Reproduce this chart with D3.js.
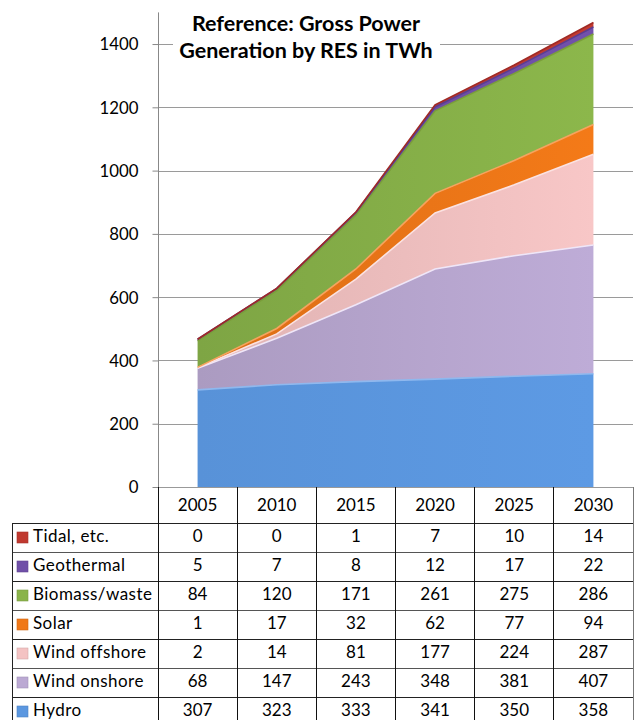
<!DOCTYPE html>
<html><head><meta charset="utf-8">
<script src="https://cdn.jsdelivr.net/npm/d3@7"></script>
<style>
html,body{margin:0;padding:0;background:#fff;}
svg{display:block;font-family:Lato,"Open Sans",sans-serif;}
</style></head>
<body>
<svg id="chart" width="635" height="720"></svg>
<script>
const years = ["2005","2010","2015","2020","2025","2030"];
const seriesNames = ["Hydro","Wind onshore","Wind offshore","Solar","Biomass/waste","Geothermal","Tidal, etc."];
const hydro        = [307,323,333,341,350,358];
const windOnshore  = [68,147,243,348,381,407];
const windOffshore = [2,14,81,177,224,287];
const solar        = [1,17,32,62,77,94];
const biomass      = [84,120,171,261,275,286];
const geothermal   = [5,7,8,12,17,22];
const tidal        = [0,0,1,7,10,14];
const yTicks = [0,200,400,600,800,1000,1200,1400];
const titleLines = ["Reference: Gross Power","Generation by RES in TWh"];

const seriesValues = [hydro,windOnshore,windOffshore,solar,biomass,geothermal,tidal];
const colors = ["#5b97e0","#bba9d3","#f4c3c3","#f07818","#8ab44a","#7050a8","#c0392f"];
const edge   = ["#8fb8ee","#efe6f8","#fbe2e2","#f6a35e","#7a9e3a","#5a3d90","#a02a25"];

const table = years.map((y,i)=>{
  const o={year:y};
  seriesNames.forEach((n,k)=>o[n]=seriesValues[k][i]);
  return o;
});

const svg = d3.select("#chart");
const pLeft=158, pRight=633, pTop=12.4, pBottom=487;
const x = d3.scaleBand().domain(years).range([pLeft,pRight]).padding(0);
const xc = d => x(d)+x.bandwidth()/2;
const y = d3.scaleLinear().domain([0,1500]).range([pBottom,pTop]);

const defs = svg.append("defs");
colors.forEach((c,i)=>{
  const g = defs.append("linearGradient").attr("id","g"+i).attr("x1","0").attr("x2","1").attr("y1","0").attr("y2","0");
  g.append("stop").attr("offset","0").attr("stop-color",d3.color(c).darker(i===0?0.1:0.25));
  g.append("stop").attr("offset","1").attr("stop-color",d3.color(c).brighter(0.05));
});

// gridlines
svg.append("g").selectAll("line").data(yTicks.filter(t=>t>0)).join("line")
  .attr("x1",pLeft).attr("x2",pRight).attr("y1",d=>Math.round(y(d))+0.5).attr("y2",d=>Math.round(y(d))+0.5)
  .attr("stroke","#9a9a9a").attr("stroke-width",1);

// stacked areas
const stack = d3.stack().keys(seriesNames);
const layers = stack(table);
const area = d3.area().x(d=>xc(d.data.year)).y0(d=>y(d[0])).y1(d=>y(d[1]));
const topLine = d3.line().x(d=>xc(d.data.year)).y(d=>y(d[1]));
const ag = svg.append("g");
layers.forEach((L,i)=>{
  ag.append("path").attr("d",area(L)).attr("fill","url(#g"+i+")");
});
layers.forEach((L,i)=>{
  ag.append("path").attr("d",topLine(L)).attr("fill","none").attr("stroke",edge[i]).attr("stroke-width",1.6);
});

// title box
svg.append("rect").attr("x",173).attr("y",4).attr("width",267).attr("height",62).attr("fill","#fff");
const tt = svg.append("text").attr("text-anchor","middle").attr("font-weight","bold").attr("font-size",21.5).attr("fill","#000");
titleLines.forEach((t,i)=>tt.append("tspan").attr("x",306).attr("y",31+i*27).text(t));

// y axis
const yAxis = svg.append("g").attr("transform",`translate(${pLeft+0.5},0)`)
  .call(d3.axisLeft(y).tickValues(yTicks).tickSize(6).tickPadding(14).tickFormat(d3.format("d")));
yAxis.select(".domain").attr("stroke","#888").attr("d",`M0,${pTop}V${pBottom}`);
yAxis.selectAll(".tick line").attr("stroke","#888");
yAxis.selectAll(".tick text").attr("font-size",16.8).attr("fill","#000").attr("font-family","Lato,sans-serif").attr("dy","0.35em");

// data table
const rowH = 29, headTop = 487, headH = 36, fs = 17;
const rows = seriesNames.slice().reverse();
const tg = svg.append("g");
const rowY = i => headTop+headH+i*rowH;
tg.selectAll("text.h").data(years).join("text").attr("class","h")
  .attr("x",d=>xc(d)).attr("y",headTop+headH/2).attr("dy","0.35em").attr("text-anchor","middle")
  .attr("font-size",fs).text(d=>d);
rows.forEach((n,r)=>{
  const k = seriesNames.indexOf(n);
  const cy = rowY(r)+rowH/2;
  tg.append("rect").attr("x",17).attr("y",cy-5.5).attr("width",11).attr("height",11)
    .attr("fill",colors[k]).attr("stroke",d3.color(colors[k]).darker(0.4)).attr("stroke-width",0.6);
  tg.append("text").attr("x",33).attr("y",cy-1.2).attr("dy","0.35em").attr("font-size",fs)
    .attr("letter-spacing",0.45).text(n);
  years.forEach((yr,i)=>{
    tg.append("text").attr("x",xc(yr)).attr("y",cy-1.2).attr("dy","0.35em").attr("text-anchor","middle")
      .attr("font-size",fs).text(seriesValues[k][i]);
  });
});
const tl = tg.append("g").attr("shape-rendering","crispEdges");
tl.append("line").attr("x1",pLeft).attr("x2",pRight).attr("y1",headTop).attr("y2",headTop).attr("stroke","#999");
for(let r=0;r<=rows.length;r++){
  tl.append("line").attr("x1",12).attr("x2",pRight).attr("y1",rowY(r)).attr("y2",rowY(r)).attr("stroke",r%2?"#555":"#222");
}
tl.append("line").attr("x1",12).attr("x2",12).attr("y1",rowY(0)).attr("y2",720).attr("stroke","#222");
years.forEach((yr,i)=>{
  tl.append("line").attr("x1",x(yr)).attr("x2",x(yr)).attr("y1",headTop).attr("y2",720).attr("stroke","#111");
});
tl.append("line").attr("x1",pRight).attr("x2",pRight).attr("y1",headTop).attr("y2",720).attr("stroke","#777");
</script>
</body></html>
